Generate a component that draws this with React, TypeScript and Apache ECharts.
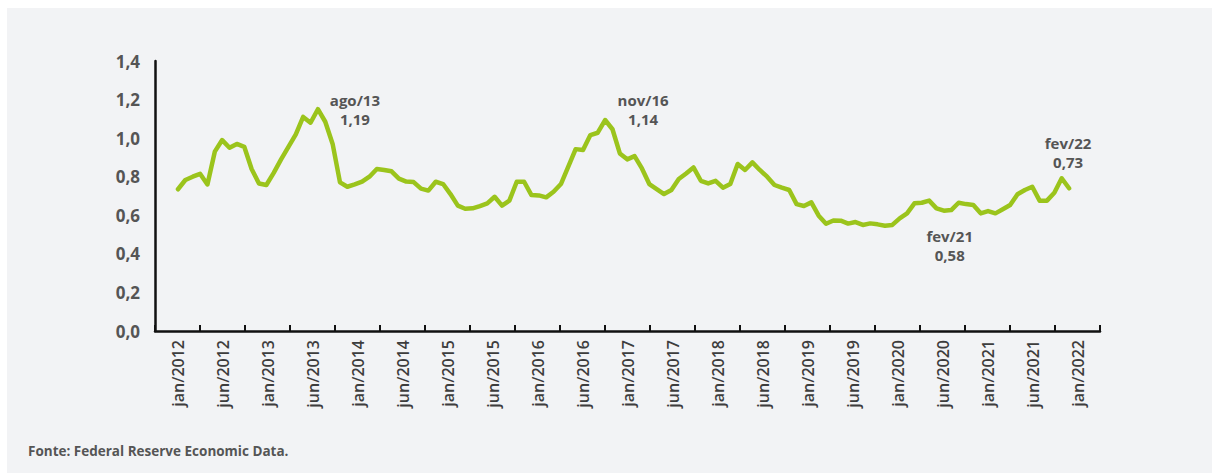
import React, { useEffect, useRef } from "react";
import * as echarts from "echarts";

// Monthly values, jan/2012 .. fev/2022 (122 months)
const values: number[] = [
  0.735, 0.783, 0.8, 0.815, 0.76, 0.93, 0.99, 0.95, 0.97, 0.955, 0.84, 0.765,
  0.757, 0.82, 0.89, 0.955, 1.02, 1.11, 1.08, 1.15, 1.085, 0.97, 0.771, 0.748,
  0.76, 0.774, 0.8, 0.84, 0.835, 0.828, 0.79, 0.775, 0.772, 0.738, 0.728, 0.774,
  0.762, 0.71, 0.65, 0.634, 0.636, 0.648, 0.662, 0.696, 0.65, 0.676, 0.774, 0.774,
  0.705, 0.703, 0.693, 0.722, 0.762, 0.852, 0.943, 0.938, 1.016, 1.028, 1.094, 1.046,
  0.921, 0.89, 0.907, 0.843, 0.762, 0.736, 0.71, 0.731, 0.788, 0.817, 0.848, 0.779,
  0.765, 0.779, 0.743, 0.762, 0.866, 0.835, 0.874, 0.835, 0.8, 0.757, 0.743, 0.731,
  0.658, 0.648, 0.667, 0.598, 0.556, 0.573, 0.572, 0.557, 0.565, 0.55, 0.558, 0.553,
  0.546, 0.55, 0.584, 0.61, 0.662, 0.665, 0.676, 0.636, 0.624, 0.627, 0.665, 0.658,
  0.653, 0.61, 0.622, 0.61, 0.631, 0.653, 0.709, 0.731, 0.748, 0.676, 0.676, 0.717,
  0.792, 0.74,
];

// Axis tick labels (one per 6-month band)
const tickLabels: string[] = [
  "jan/2012", "jun/2012", "jan/2013", "jun/2013", "jan/2014", "jun/2014",
  "jan/2015", "jun/2015", "jan/2016", "jun/2016", "jan/2017", "jun/2017",
  "jan/2018", "jun/2018", "jan/2019", "jun/2019", "jan/2020", "jun/2020",
  "jan/2021", "jun/2021", "jan/2022",
];

// Annotations
const annoMonths: number[] = [19, 58, 109, 121];
const annoNames: string[] = ["ago/13", "nov/16", "fev/21", "fev/22"];
const annoValues: string[] = ["1,19", "1,14", "0,58", "0,73"];
const annoOffsets: number[][] = [
  [37, 0],
  [38, -11],
  [-31, 32],
  [-1, -36],
];

const FONT = "'Open Sans', 'Noto Sans', sans-serif";

export default function App() {
  const ref = useRef<HTMLDivElement>(null);

  useEffect(() => {
    if (!ref.current) return;
    const chart = echarts.init(ref.current, undefined, { renderer: "svg" });
    const lineData = values.map((v, i) => [i, v]);

    chart.setOption({
      animation: false,
      backgroundColor: "transparent",
      textStyle: { fontFamily: FONT },
      grid: { left: 155, right: 112, top: 61, bottom: 142, containLabel: false },
      xAxis: [
        {
          type: "category",
          data: tickLabels,
          boundaryGap: true,
          axisLine: { show: true, onZero: false, lineStyle: { color: "#111", width: 2.5 } },
          axisTick: {
            show: true,
            inside: true,
            length: 6,
            alignWithLabel: false,
            lineStyle: { color: "#111", width: 2 },
          },
          axisLabel: {
            rotate: 90,
            margin: 9,
            fontSize: 16,
            fontWeight: 600,
            color: "#3d3d3d",
            fontFamily: FONT,
            interval: 0,
          },
          splitLine: { show: false },
        },
        {
          type: "value",
          min: -3.12,
          max: 125.2,
          show: false,
          splitLine: { show: false },
        },
      ],
      yAxis: {
        type: "value",
        min: 0,
        max: 1.4,
        interval: 0.2,
        axisLine: { show: true, onZero: false, lineStyle: { color: "#111", width: 2.5 } },
        axisTick: { show: false },
        splitLine: { show: false },
        axisLabel: {
          margin: 15,
          fontSize: 17,
          fontWeight: "bold",
          color: "#555",
          fontFamily: FONT,
          formatter: (v: number) => v.toFixed(1).replace(".", ","),
        },
      },
      graphic: [
        {
          type: "text",
          left: 28,
          top: 444,
          style: {
            text: "Fonte: Federal Reserve Economic Data.",
            fontSize: 13.5,
            fontWeight: "bold",
            fill: "#555",
            fontFamily: FONT,
          },
        },
      ],
      series: [
        {
          type: "line",
          xAxisIndex: 1,
          yAxisIndex: 0,
          data: lineData,
          symbol: "none",
          lineStyle: { color: "#9bc41c", width: 4.5, cap: "round", join: "round" },
          markPoint: {
            symbol: "circle",
            symbolSize: 0,
            itemStyle: { color: "transparent" },
            data: annoMonths.map((m, i) => ({
              coord: [m, values[m]],
              label: {
                show: true,
                position: "inside",
                offset: annoOffsets[i],
                formatter: annoNames[i] + "\n" + annoValues[i],
                fontSize: 15,
                fontWeight: "bold",
                lineHeight: 19,
                color: "#555",
                fontFamily: FONT,
                align: "center",
              },
            })),
          },
        },
      ],
    });

    return () => chart.dispose();
  }, []);

  return (
    <div
      style={{
        position: "fixed",
        left: 0,
        top: 0,
        width: 1212,
        height: 473,
        background: "#ffffff",
      }}
    >
      <div
        style={{
          position: "absolute",
          left: 7,
          top: 8,
          right: 0,
          bottom: 0,
          background: "#f2f3f5",
        }}
      />
      <div
        ref={ref}
        style={{ position: "absolute", left: 0, top: 0, width: 1212, height: 473 }}
      />
    </div>
  );
}
